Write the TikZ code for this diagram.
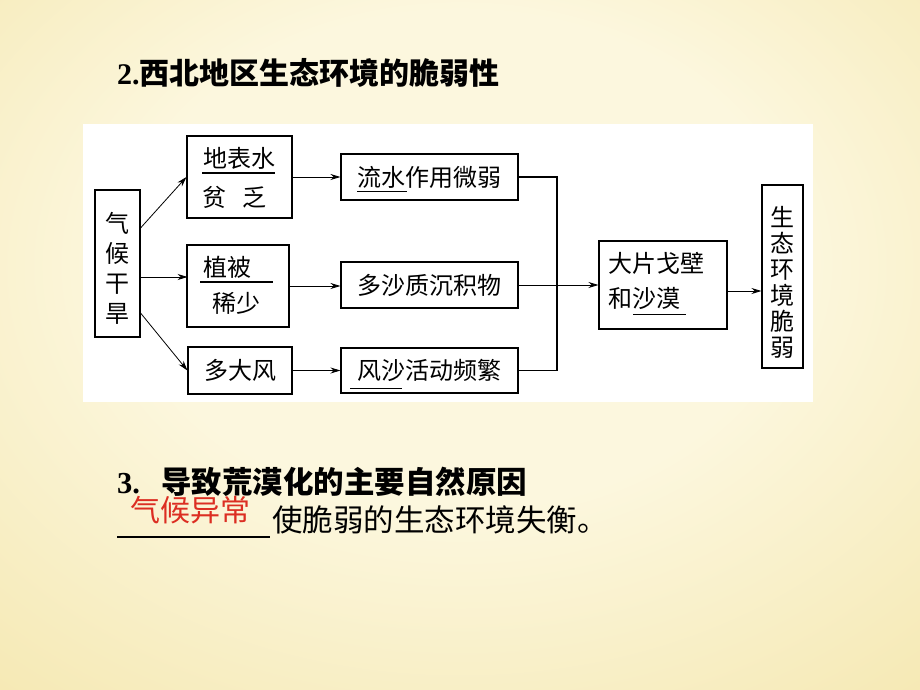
\documentclass[tikz,border=0pt]{standalone}
\usepackage{fontspec}
\newfontfamily\cjk{Noto Sans CJK SC}
\newfontfamily\tnr{Liberation Serif}
\usetikzlibrary{arrows.meta,calc}
\definecolor{bgin}{HTML}{FCF7DE}
\definecolor{bgout}{HTML}{EED985}
\definecolor{answerred}{HTML}{DC2E22}
\pgfdeclareradialshading{slideglow}{\pgfpoint{0bp}{8bp}}{color(0bp)=(bgin); color(18bp)=(bgin); color(62bp)=(bgout); color(80bp)=(bgout)}
\tikzset{
  box/.style={draw, line width=1.1pt, inner sep=0pt, font=\cjk\fontsize{24}{30}\selectfont},
  txt/.style={inner sep=0pt, font=\cjk\fontsize{24}{30}\selectfont},
  arr/.style={-{Stealth[length=10pt,width=6pt]}, line width=0.8pt},
  blank/.style={line width=0.9pt}
}

\begin{document}
\begin{tikzpicture}[x=1pt,y=-1pt]
\useasboundingbox (0,0) rectangle (920,690);
\shade[shading=slideglow] (0,0) rectangle (920,690);
\fill[white] (83,124) rectangle (813,402);

\node[anchor=west, inner sep=0pt] (title) at (117,73) {\fontsize{30}{36}\selectfont\bfseries{\tnr 2.}\cjk 西北地区生态环境的脆弱性};

\node[box, minimum width=45pt, minimum height=147pt] (climate) at (117.5,263.5) {};
\node[txt, align=center] (climateT) at (117.5,268) {气\\候\\干\\旱};
\node[box, minimum width=105pt, minimum height=82pt] (water) at (239.5,177) {};
\node[txt] (waterA) at (239,158) {地表水};
\node[txt] (waterB) at (234.5,197) {贫\hspace{16pt}乏};
\node[box, minimum width=102pt, minimum height=82pt] (veg) at (238,286) {};
\node[txt] (vegA) at (227.5,267) {植被};
\node[txt] (vegB) at (236,303) {稀少};
\node[box, minimum width=104pt, minimum height=47pt] (wind) at (240,370.5) {多大风};
\node[box, minimum width=177pt, minimum height=46pt] (flow) at (429.5,177) {流水作用微弱};
\node[box, minimum width=177pt, minimum height=46pt] (sedi) at (429.5,285) {多沙质沉积物};
\node[box, minimum width=177pt, minimum height=45pt] (sand) at (429.5,370.5) {风沙活动频繁};
\node[box, minimum width=128pt, minimum height=88pt] (desert) at (663,285) {};
\node[txt, anchor=west] (desertA) at (608,263) {大片戈壁};
\node[txt, anchor=west] (desertB) at (608,298) {和沙漠};
\node[box, minimum width=41pt, minimum height=183pt] (fragile) at (782.5,276.5) {};
\node[txt, align=center, font=\cjk\fontsize{24}{26}\selectfont] (fragileT) at (782.5,282) {生\\态\\环\\境\\脆\\弱};

\draw[line width=1.1pt] (202,173) -- (275,173);
\draw[line width=1.1pt] (200,282) -- (273,282);
\draw[blank] (357,191) -- (407,191);
\draw[blank] (350,388) -- (402,388);
\draw[blank] (633,314) -- (686,314);

\draw[arr] ($(climate.east)+(0,-35.5)$) -- (water.west);
\draw[arr] ($(climate.east)+(0,13.5)$) -- ++(47,0);
\draw[arr] ($(climate.east)+(0,49.5)$) -- (wind.west);
\draw[arr] (water.east) -- (flow.west);
\draw[arr] (veg.east) -- (veg.east -| sedi.west);
\draw[arr] (wind.east) -- (sand.west);
\coordinate (merge) at (557,285);
\draw[line width=1.1pt] (flow.east) -| (merge) |- (sand.east);
\draw[arr] (sedi.east) -- (desert.west);
\coordinate (d2f) at ([yshift=-6pt]desert.east);
\draw[arr] (d2f) -- (d2f -| fragile.west);

\node[anchor=west, inner sep=0pt] (item) at (117,482) {\fontsize{30.5}{36}\selectfont\bfseries{\tnr 3.}\hspace{21pt}\cjk 导致荒漠化的主要自然原因};
\node[anchor=west, inner sep=0pt, text=answerred] (answer) at (130,510) {\cjk\fontsize{30}{36}\selectfont 气候异常};
\draw[line width=1.2pt] (117,537) -- (270,537);
\node[anchor=west, inner sep=0pt] (tail) at (272,520) {\cjk\fontsize{30.5}{36}\selectfont 使脆弱的生态环境失衡。};
\end{tikzpicture}
\end{document}
